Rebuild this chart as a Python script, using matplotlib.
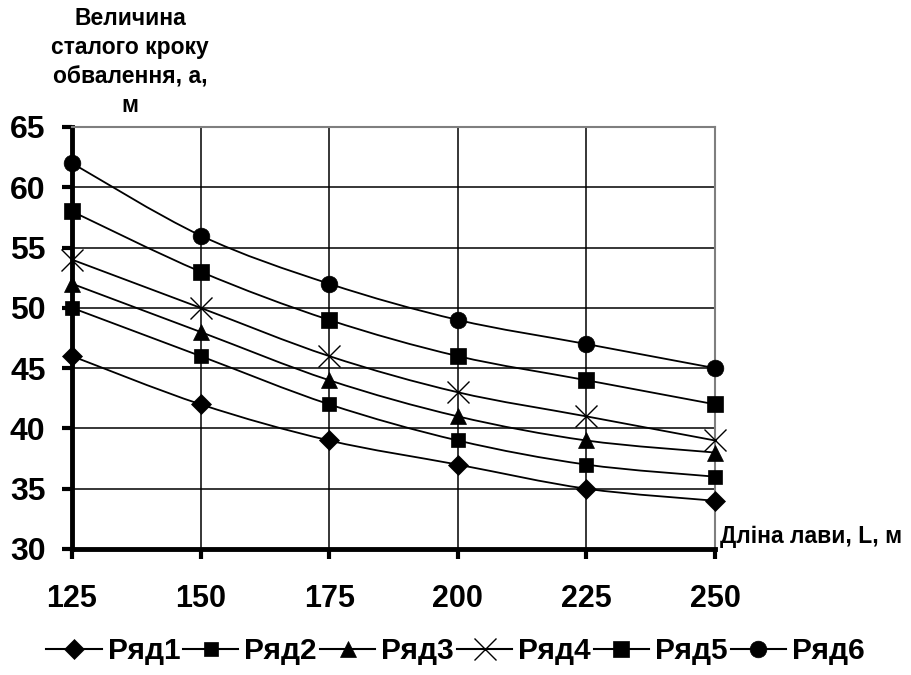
import matplotlib
matplotlib.use("Agg")
import matplotlib.pyplot as plt
from matplotlib.path import Path
from matplotlib.patches import PathPatch
from matplotlib.lines import Line2D
import numpy as np

plt.rcParams['font.family'] = ['Liberation Sans', 'DejaVu Sans']
plt.rcParams['font.weight'] = 'bold'

# Data
lengths = ["125", "150", "175", "200", "225", "250"]
series_names = ["Ряд1", "Ряд2", "Ряд3", "Ряд4", "Ряд5", "Ряд6"]
row1 = [46, 42, 39, 37, 35, 34]
row2 = [50, 46, 42, 39, 37, 36]
row3 = [52, 48, 44, 41, 39, 38]
row4 = [54, 50, 46, 43, 41, 39]
row5 = [58, 53, 49, 46, 44, 42]
row6 = [62, 56, 52, 49, 47, 45]
all_rows = [row1, row2, row3, row4, row5, row6]

markers = ["D", "s", "^", "x", "s", "o"]
marker_sizes = [10, 10, 12, 16, 12, 12]


def smooth_path(xs, ys):
    # cubic bezier through the points (Excel-like smoothed line)
    pts = np.column_stack([xs, ys]).astype(float)
    n = len(pts)
    verts = [pts[0]]
    codes = [Path.MOVETO]
    for i in range(n - 1):
        p_prev = pts[i - 1] if i > 0 else pts[i]
        p0 = pts[i]
        p1 = pts[i + 1]
        p_next = pts[i + 2] if i + 2 < n else pts[i + 1]
        c1 = p0 + (p1 - p_prev) / 6.0
        c2 = p1 - (p_next - p0) / 6.0
        verts += [c1, c2, p1]
        codes += [Path.CURVE4] * 3
    return Path(verts, codes)


fig = plt.figure(figsize=(9.11, 6.75), dpi=100)
ax = fig.add_axes([72 / 911, 1 - 549 / 675, (715 - 72) / 911, (549 - 127) / 675])

x = np.arange(len(lengths))

ax.set_xlim(0, len(lengths) - 1)
ax.set_ylim(30, 65)
ax.set_yticks(range(30, 66, 5))
ax.set_xticks(x)
ax.set_xticklabels(lengths)

ax.grid(True, color="black", linewidth=1.1)
ax.set_axisbelow(True)

for vals, mk, ms in zip(all_rows, markers, marker_sizes):
    ax.add_patch(PathPatch(smooth_path(x, vals), facecolor="none",
                           edgecolor="black", linewidth=1.3, zorder=3))
    ax.plot(x, vals, linestyle="none", marker=mk, markersize=ms, color="black",
            markeredgewidth=1.0 if mk == "x" else 0.5, clip_on=False, zorder=4)

for side in ["left", "bottom"]:
    ax.spines[side].set_linewidth(3.5)
    ax.spines[side].set_color("black")
for side in ["top", "right"]:
    ax.spines[side].set_linewidth(1.5)
    ax.spines[side].set_color("#7f7f7f")

ax.tick_params(axis="y", direction="out", length=7, width=3, pad=12, labelsize=23)
ax.tick_params(axis="x", direction="out", length=7, width=3, pad=18, labelsize=22)
for lab in ax.get_xticklabels() + ax.get_yticklabels():
    lab.set_fontweight("bold")

fig.text(130 / 911, 1 - 62 / 675, "Величина\nсталого кроку\nобвалення, а,\nм",
         ha="center", va="center", fontsize=16.5, fontweight="bold", linespacing=1.35)
fig.text(720 / 911, 1 - 536 / 675, "Дліна лави, L, м", ha="left", va="center",
         fontsize=16.5, fontweight="bold")

handles = [Line2D([], [], color="black", linewidth=1.5, marker=mk, markersize=ms,
                  markeredgewidth=1.0 if mk == "x" else 0.5)
           for mk, ms in zip(markers, marker_sizes)]
fig.legend(handles, series_names, loc="center", bbox_to_anchor=(0.5, 1 - 651 / 675),
           ncol=6, frameon=False, handlelength=1.85, handletextpad=0.2,
           columnspacing=0.1, prop={"weight": "bold", "size": 21.5})

fig.savefig("out.png", dpi=100)
